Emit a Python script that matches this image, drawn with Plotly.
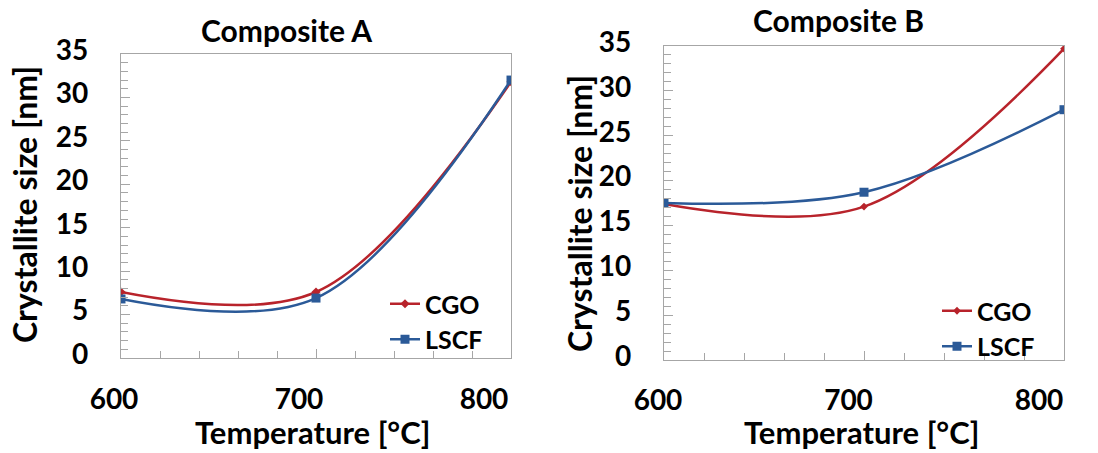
import plotly.graph_objects as go

temps = [600, 700, 800]
a_cgo = [7.6, 7.6, 31.8]
a_lscf = [6.8, 6.9, 32.0]
b_cgo = [17.4, 17.1, 34.7]
b_lscf = [17.5, 18.7, 27.9]
x_ticks = [600, 700, 800]
y_ticks = [0, 5, 10, 15, 20, 25, 30, 35]

RED = "#B8232B"
BLUE = "#2B5A98"
FONT = "Lato"
W, H = 1098, 453

def px_x(a, b):
    return [a / W, b / W]

def px_y(top, bottom):
    return [(H - bottom) / H, (H - top) / H]

fig = go.Figure()

def add_series(xa, ya, x, y, name, color, symbol, size, legend):
    fig.add_trace(go.Scatter(
        x=x, y=y, name="<b>" + name + "</b>", xaxis=xa, yaxis=ya, mode="lines+markers",
        line=dict(color=color, width=2.5, shape="spline", smoothing=1),
        marker=dict(color=color, symbol=symbol, size=size),
        legend=legend, showlegend=True))

add_series("x", "y", temps, a_cgo, "CGO", RED, "diamond", 7, "legend")
add_series("x", "y", temps, a_lscf, "LSCF", BLUE, "square", 9, "legend")
add_series("x2", "y2", temps, b_cgo, "CGO", RED, "diamond", 6, "legend2")
add_series("x2", "y2", temps, b_lscf, "LSCF", BLUE, "square", 9, "legend2")
# invisible traces to host label-only axes
fig.add_trace(go.Scatter(x=[], y=[], xaxis="x3", yaxis="y", showlegend=False))
fig.add_trace(go.Scatter(x=[], y=[], xaxis="x4", yaxis="y2", showlegend=False))

LINE = "#A6A6A6"
xcommon = dict(range=[600, 800], showline=True, linecolor=LINE, linewidth=1.3,
               mirror=True, ticks="inside", ticklen=9, tickcolor=LINE, dtick=100,
               showticklabels=False, showgrid=False, zeroline=False, automargin=False,
               minor=dict(dtick=20, ticks="inside", ticklen=7, tickcolor=LINE, showgrid=False))
ycommon = dict(range=[0, 35], showline=True, linecolor=LINE, linewidth=1.3,
               mirror=True, ticks="inside", ticklen=9, tickcolor=LINE,
               tickmode="array", tickvals=y_ticks, automargin=False,
               tickfont=dict(family=FONT, size=28, color="black", weight="bold"),
               ticklabelstandoff=26, ticklabelshift=-4,
               showgrid=False, zeroline=False,
               minor=dict(dtick=1, ticks="inside", ticklen=7, tickcolor=LINE, showgrid=False))
labaxis = dict(range=[600, 800], tickmode="array", tickvals=x_ticks, automargin=False,
               showline=False, ticks="", showgrid=False, zeroline=False,
               tickfont=dict(family=FONT, size=28, color="black", weight="bold"))

fig.update_layout(
    width=W, height=H, autosize=False,
    margin=dict(l=0, r=0, t=0, b=0, pad=0, autoexpand=False),
    paper_bgcolor="white", plot_bgcolor="rgba(0,0,0,0)",
    xaxis=dict(domain=px_x(121, 511), anchor="y", **xcommon),
    yaxis=dict(domain=px_y(54, 358), anchor="x", **ycommon),
    xaxis2=dict(domain=px_x(664, 1064), anchor="y2", **xcommon),
    yaxis2=dict(domain=px_y(46, 360), anchor="x2", **ycommon),
    xaxis3=dict(domain=px_x(114, 484), anchor="free", position=(H - 380) / H, **labaxis),
    xaxis4=dict(domain=px_x(658, 1039), anchor="free", position=(H - 381) / H, **labaxis),
    legend=dict(x=385 / W, y=(H - 281) / H, xanchor="left", yanchor="top",
                bgcolor="rgba(0,0,0,0)", tracegroupgap=0,
                font=dict(family=FONT, size=25, color="black", weight="bold")),
    legend2=dict(x=937 / W, y=(H - 288) / H, xanchor="left", yanchor="top",
                 bgcolor="rgba(0,0,0,0)", tracegroupgap=0,
                 font=dict(family=FONT, size=25, color="black", weight="bold")),
)

def ann(text, x, y, angle=0, size=30):
    fig.add_annotation(text="<b>" + text + "</b>", x=x / W, y=(H - y) / H,
                       xref="paper", yref="paper",
                       xanchor="center", yanchor="middle", showarrow=False, textangle=angle,
                       font=dict(family=FONT, size=size, color="black", weight="bold"))

ann("Composite A", 286, 30)
ann("Composite B", 838, 20)
ann("Temperature [°C]", 312, 432, size=31)
ann("Temperature [°C]", 862, 432, size=31)
ann("Crystallite size [nm]", 24, 205, angle=-90, size=32)
ann("Crystallite size [nm]", 579, 214, angle=-90, size=32)

fig.write_html("out.html")
